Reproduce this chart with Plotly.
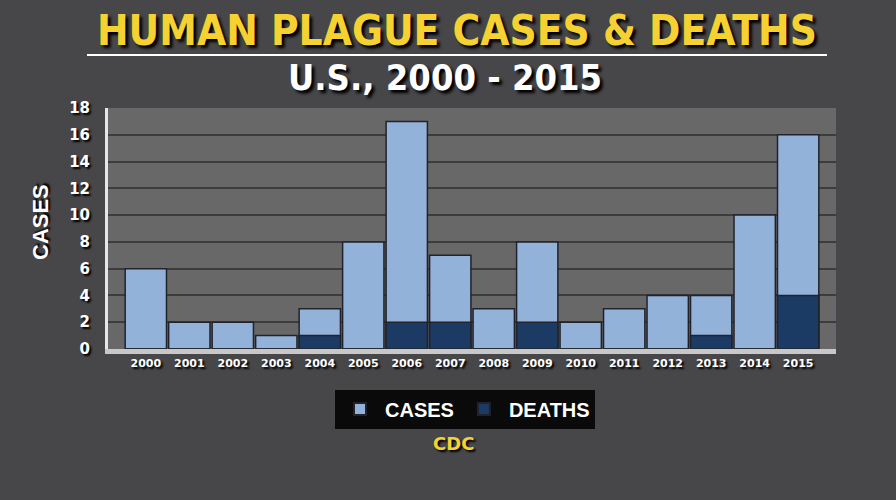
import plotly.graph_objects as go

years = ["2000", "2001", "2002", "2003", "2004", "2005", "2006", "2007",
         "2008", "2009", "2010", "2011", "2012", "2013", "2014", "2015"]
cases = [6, 2, 2, 1, 3, 8, 17, 7, 3, 8, 2, 3, 4, 4, 10, 16]
deaths = [0, 0, 0, 0, 1, 0, 2, 2, 0, 2, 0, 0, 0, 1, 0, 4]
y_ticks = [0, 2, 4, 6, 8, 10, 12, 14, 16, 18]

L, R, T, B = 108, 60, 108, 151
W, H = 896, 500
pw, ph = W - L - R, H - T - B

def px(x):
    return (x - L) / pw

def py(y):
    return (H - B - y) / ph

fig = go.Figure()
fig.add_trace(go.Bar(
    x=years, y=cases, name="CASES",
    marker=dict(color="#93b2da", line=dict(color="#22232a", width=1.5)),
))
fig.add_trace(go.Bar(
    x=years, y=deaths, name="DEATHS",
    marker=dict(color="#1b3a64", line=dict(color="#22232a", width=1.5)),
))

shadow = "2px 2px 2px #000000"
cond = "DejaVu Sans Condensed, Roboto Condensed, Roboto, sans-serif"
fig.update_layout(
    width=W, height=H,
    margin=dict(l=L, r=R, t=T, b=B),
    paper_bgcolor="#47474a",
    plot_bgcolor="#686868",
    barmode="overlay",
    bargap=0.05,
    showlegend=True,
    legend=dict(
        orientation="h", x=px(465), y=py(409), xanchor="center", yanchor="middle",
        bgcolor="#0a0a0a", borderwidth=0,
        font=dict(family="Liberation Sans", size=20, color="white", weight="bold"),
        itemsizing="constant", traceorder="normal", itemwidth=40,
    ),
    xaxis=dict(
        type="category", range=[-0.87, 15.87], showgrid=False,
        tickfont=dict(family="DejaVu Sans", size=11, color="white", weight="bold", shadow=shadow),
        ticks="", showline=True, linecolor="#c8c8c8", linewidth=5,
    ),
    yaxis=dict(
        range=[0, 18], tickvals=y_ticks, showgrid=True,
        gridcolor="#3c3c3c", gridwidth=2, zeroline=False,
        tickfont=dict(family="DejaVu Sans", size=15, color="white", weight="bold", shadow=shadow),
        ticks="", ticklabelstandoff=12,
        showline=True, linecolor="#e6e6e6", linewidth=3,
    ),
    shapes=[
        dict(type="line", xref="paper", yref="paper",
             x0=px(87), x1=px(827), y0=py(55), y1=py(55),
             line=dict(color="white", width=2)),
    ],
    annotations=[
        dict(text="HUMAN PLAGUE CASES & DEATHS", xref="paper", yref="paper",
             x=px(457), y=py(30), showarrow=False, xanchor="center", yanchor="middle",
             font=dict(family=cond, size=42, color="#f6d132",
                       weight="bold", shadow="3px 3px 3px #000000")),
        dict(text="U.S., 2000 - 2015", xref="paper", yref="paper",
             x=px(445), y=py(77), showarrow=False, xanchor="center", yanchor="middle",
             font=dict(family=cond, size=36, color="white",
                       weight="bold", shadow="3px 3px 3px #000000")),
        dict(text="CASES", xref="paper", yref="paper", textangle=-90,
             x=px(40), y=py(222), showarrow=False, xanchor="center", yanchor="middle",
             font=dict(family="Liberation Sans", size=22, color="white",
                       weight="bold", shadow=shadow)),
        dict(text="CDC", xref="paper", yref="paper",
             x=px(453), y=py(443), showarrow=False, xanchor="center", yanchor="middle",
             font=dict(family="DejaVu Sans", size=18, color="#f6d132",
                       weight="bold", shadow=shadow)),
    ],
)

fig.write_html("out.html", config={"displayModeBar": False},
               post_script="document.body.style.margin='0';")
